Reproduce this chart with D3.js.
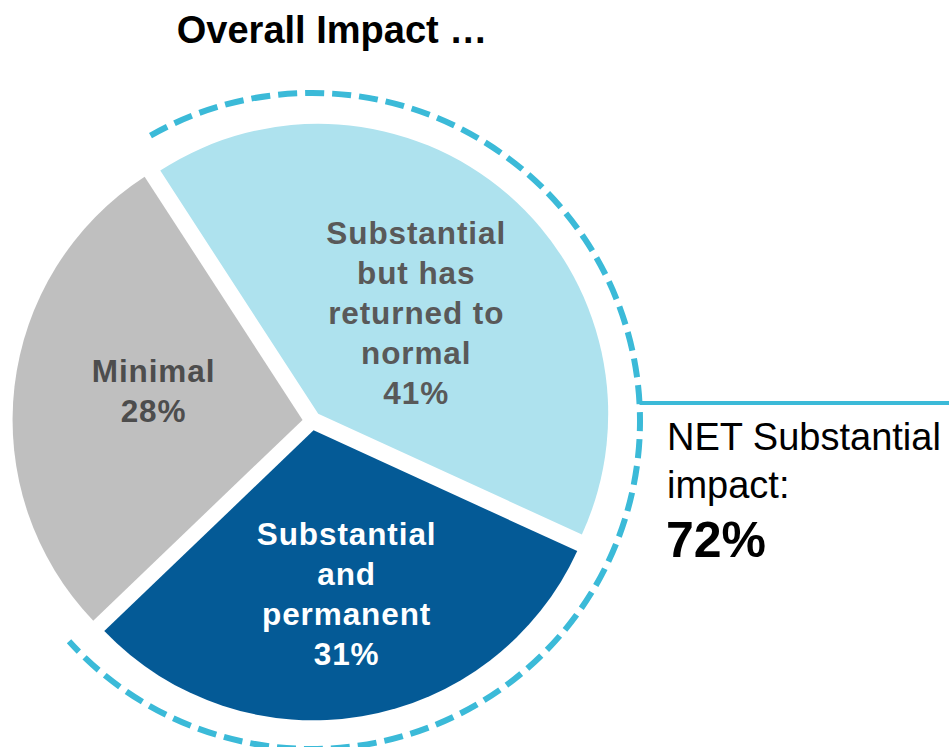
<!DOCTYPE html>
<html>
<head>
<meta charset="utf-8">
<script src="https://cdn.jsdelivr.net/npm/d3@7"></script>
<style>
  html, body { margin: 0; padding: 0; background: #fff; }
  svg { display: block; font-family: "Liberation Sans", Arial, sans-serif; }
</style>
</head>
<body>
<svg id="chart" width="949" height="747"></svg>
<script>
// Survey result: overall impact shares
const categories = ["Substantial but has returned to normal", "Substantial and permanent", "Minimal"];
const labelLines = [
  ["Substantial", "but has", "returned to", "normal"],
  ["Substantial", "and", "permanent"],
  ["Minimal"]
];
const values = [41, 31, 28];
const sliceColors = ["#aee2ee", "#045a96", "#bfbfbf"];
const labelColors = ["#595959", "#ffffff", "#4d4d4d"];
const netLabel = ["NET Substantial", "impact:"];
const netValue = 72;
const titleText = "Overall Impact …";

const svg = d3.select("#chart");
const cx = 312, cy = 421;
const radius = 290;
const explode = 9.5;
const ringRadius = 328;
const deg = Math.PI / 180;

svg.append("text")
  .attr("x", 332).attr("y", 43)
  .attr("text-anchor", "middle")
  .attr("font-weight", "bold")
  .attr("font-size", 38)
  .attr("fill", "#000")
  .text(titleText);

const pie = d3.pie().sort(null).value(d => d).startAngle(-33 * deg).endAngle(327 * deg);
const arcs = pie(values);
const arc = d3.arc().innerRadius(0).outerRadius(radius);

const g = svg.append("g").attr("transform", `translate(${cx},${cy})`);

// per-slice label placement: radius along mid-angle, plus a nudge
const labelPlace = [
  { r: 150, dx: 0, dy: 12 },
  { r: 162, dx: 6, dy: 4 },
  { r: 150, dx: 0, dy: -12 }
];
const fontSize = 31.5, lineH = 40;

arcs.forEach((a, i) => {
  const mid = (a.startAngle + a.endAngle) / 2;
  const ox = Math.sin(mid) * explode, oy = -Math.cos(mid) * explode;
  const sg = g.append("g").attr("transform", `translate(${ox},${oy})`);
  sg.append("path").attr("d", arc(a)).attr("fill", sliceColors[i]);

  const lines = labelLines[i].concat([values[i] + "%"]);
  const p = labelPlace[i];
  const lx = Math.sin(mid) * p.r + p.dx;
  const ly = -Math.cos(mid) * p.r + p.dy;
  const total = (lines.length - 1) * lineH;
  const t = sg.append("text")
    .attr("text-anchor", "middle")
    .attr("font-weight", "bold")
    .attr("font-size", fontSize)
    .attr("letter-spacing", 0.9)
    .attr("fill", labelColors[i]);
  lines.forEach((ln, k) => {
    t.append("tspan")
      .attr("x", lx)
      .attr("y", ly - total / 2 + k * lineH + fontSize * 0.36)
      .text(ln);
  });
});

// dashed ring around the substantial slices
const subStart = arcs[0].startAngle + 3.5 * deg;
const subEnd = arcs[1].endAngle + 1.6 * deg;
const ring = d3.path();
ring.arc(0, 0, ringRadius, subStart - Math.PI / 2, subEnd - Math.PI / 2, false);
g.append("path")
  .attr("d", ring.toString())
  .attr("fill", "none")
  .attr("stroke", "#3bbad8")
  .attr("stroke-width", 6)
  .attr("stroke-dasharray", "19 8");

// connector line and NET annotation
const lineY = 403;
const lineX0 = cx + Math.sqrt(ringRadius * ringRadius - (lineY - cy) * (lineY - cy));
svg.append("line")
  .attr("x1", lineX0).attr("x2", 949)
  .attr("y1", lineY).attr("y2", lineY)
  .attr("stroke", "#3bbad8").attr("stroke-width", 4);

svg.append("text").attr("x", 667).attr("y", 450)
  .attr("font-size", 38).attr("fill", "#000").text(netLabel[0]);
svg.append("text").attr("x", 667).attr("y", 498)
  .attr("font-size", 38).attr("fill", "#000").text(netLabel[1]);
svg.append("text").attr("x", 666).attr("y", 557)
  .attr("font-size", 50).attr("font-weight", "bold").attr("fill", "#000").text(netValue + "%");
</script>
</body>
</html>
